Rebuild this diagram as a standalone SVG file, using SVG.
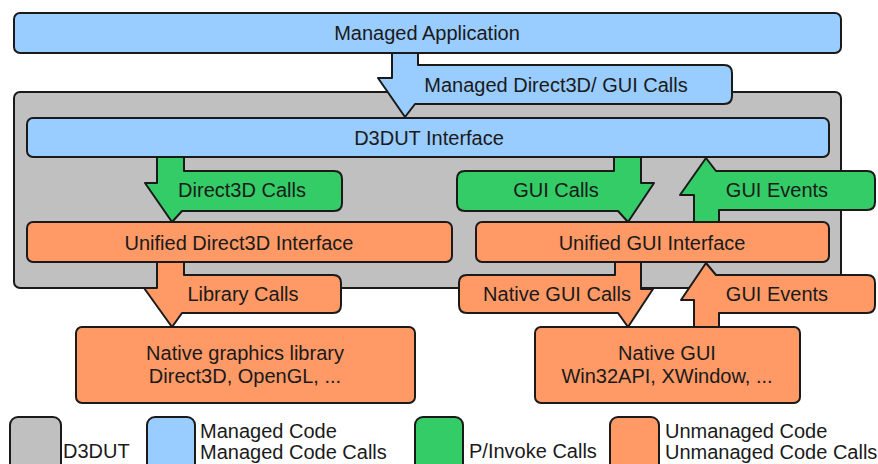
<svg xmlns="http://www.w3.org/2000/svg" width="878" height="464" viewBox="0 0 878 464">
  <style>
    .box { stroke: #1a1a1a; stroke-width: 2; stroke-linejoin: round; }
    .managed { fill: #99ccff; }
    .d3dut { fill: #c0c0c0; }
    .pinvoke { fill: #33cc66; }
    .unmanaged { fill: #ff9966; }
    text { font-family: "Liberation Sans", Arial, sans-serif; font-size: 20px; fill: #1a1a1a; }
    .c { text-anchor: middle; }
  </style>

  <rect width="878" height="464" fill="#ffffff"/>

  <!-- D3DUT container -->
  <g id="d3dut">
    <rect class="box d3dut" x="14" y="92" width="827" height="196" rx="6"/>
  </g>

  <!-- call / event arrows -->
  <g id="connectors">
    <g id="managed-calls">
      <path class="box managed" d="M392,53 V78 H378 L405,117 L415,104 H724 Q732,104 732,96 V73 Q732,65 724,65 H418 V53 Z"/>
      <text class="c" x="556" y="92">Managed Direct3D/ GUI Calls</text>
    </g>
    <g id="direct3d-calls">
      <path class="box pinvoke" d="M157,157 V183 H145 L172,222 L182,211 H334 Q342,211 342,203 V179 Q342,171 334,171 H184 V157 Z"/>
      <text class="c" x="242" y="197">Direct3D Calls</text>
    </g>
    <g id="gui-calls">
      <path class="box pinvoke" d="M641,157 V183 H654 L628,222 L618,211 H465 Q457,211 457,203 V179 Q457,171 465,171 H614 V157 Z"/>
      <text class="c" x="556" y="197">GUI Calls</text>
    </g>
    <g id="gui-events-upper">
      <path class="box pinvoke" d="M694,222 V195 H680 L706,158 L716,171 H867 Q875,171 875,179 V202 Q875,210 867,210 H719 V222 Z"/>
      <text class="c" x="777" y="197">GUI Events</text>
    </g>
    <g id="library-calls">
      <path class="box unmanaged" d="M157,262 V288 H144 L172,327 L182,313 H333 Q341,313 341,305 V283 Q341,275 333,275 H184 V262 Z"/>
      <text class="c" x="243" y="301">Library Calls</text>
    </g>
    <g id="native-gui-calls">
      <path class="box unmanaged" d="M641,262 V289 H653 L628,327 L618,313 H467 Q459,313 459,305 V283 Q459,275 467,275 H615 V262 Z"/>
      <text class="c" x="557" y="301">Native GUI Calls</text>
    </g>
    <g id="gui-events-lower">
      <path class="box unmanaged" d="M694,327 V300 H681 L706,263 L716,275 H867 Q875,275 875,283 V305 Q875,313 867,313 H719 V327 Z"/>
      <text class="c" x="777" y="301">GUI Events</text>
    </g>
  </g>

  <g id="managed-application">
    <rect class="box managed" x="14" y="13" width="827" height="40" rx="6"/>
    <text class="c" x="427" y="40">Managed Application</text>
  </g>

  <g id="d3dut-interface">
    <rect class="box managed" x="27" y="118" width="802" height="39" rx="6"/>
    <text class="c" x="429" y="145">D3DUT Interface</text>
  </g>

  <g id="unified-direct3d">
    <rect class="box unmanaged" x="27" y="222" width="425" height="40" rx="6"/>
    <text class="c" x="239" y="250">Unified Direct3D Interface</text>
  </g>

  <g id="unified-gui">
    <rect class="box unmanaged" x="476" y="222" width="353" height="40" rx="6"/>
    <text class="c" x="652" y="250">Unified GUI Interface</text>
  </g>

  <g id="native-graphics">
    <rect class="box unmanaged" x="76" y="327" width="339" height="76" rx="6"/>
    <text class="c" x="245" y="360">Native graphics library</text>
    <text class="c" x="245" y="383">Direct3D, OpenGL, ...</text>
  </g>

  <g id="native-gui">
    <rect class="box unmanaged" x="535" y="327" width="265" height="76" rx="6"/>
    <text class="c" x="667" y="360">Native GUI</text>
    <text class="c" x="667" y="383">Win32API, XWindow, ...</text>
  </g>

  <!-- legend -->
  <g id="legend">
    <rect class="box d3dut" x="10" y="417" width="51" height="60" rx="8"/>
    <text x="63" y="458">D3DUT</text>
    <rect class="box managed" x="147" y="417" width="48" height="60" rx="8"/>
    <text x="200" y="438">Managed Code</text>
    <text x="200" y="459">Managed Code Calls</text>
    <rect class="box pinvoke" x="415" y="417" width="48" height="60" rx="8"/>
    <text x="469" y="458">P/Invoke Calls</text>
    <rect class="box unmanaged" x="610" y="417" width="49" height="60" rx="8"/>
    <text x="665" y="438">Unmanaged Code</text>
    <text x="665" y="459">Unmanaged Code Calls</text>
  </g>
</svg>
